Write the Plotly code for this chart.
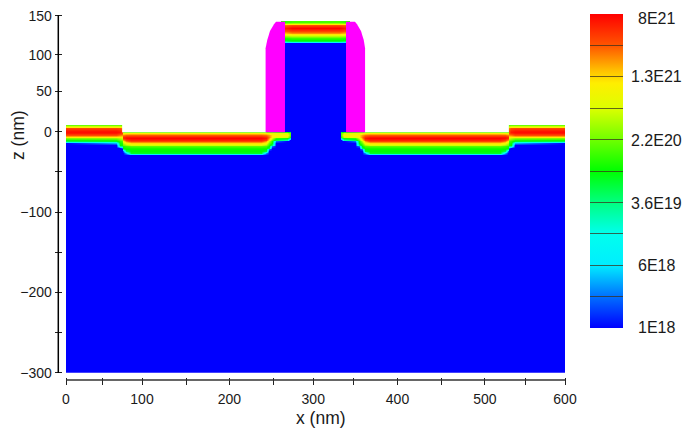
import numpy as np
import plotly.graph_objects as go

W, H = 685, 428
FONT = "Liberation Sans, Arial, sans-serif"

# ---- axis ticks as they appear in the picture (the drawn ticks are unevenly spaced)
x_tick_pos = [0, 43.3, 91.4, 144.3, 196.4, 249.3, 297.3, 346, 398.6, 451, 503.6, 552, 600]
x_tick_txt = ["0", "", "100", "", "200", "", "300", "", "400", "", "500", "", "600"]
z_tick_pos = [144.4, 95.6, 50, 0, -50, -100, -150, -200, -250, -300]
z_tick_txt = ["150", "100", "50", "0", "", "\u2212100", "", "\u2212200", "", "\u2212300"]

# ---- colour bar
cbar_ticks = [18, 18.39, 18.78, 19.17, 19.56, 19.95, 20.34, 20.73, 21.12, 21.51, 21.903]
cbar_labels = ["8E21", "1.3E21", "2.2E20", "3.6E19", "6E18", "1E18"]
cbar_label_px = [19, 76, 141, 203, 265, 327]
colour_stops = [
    [0.0, "#0000FF"], [0.1, "#0070FF"], [0.2, "#00EEFF"], [0.3, "#00FFEE"],
    [0.4, "#00FF80"], [0.5, "#00FF00"], [0.6, "#70FF00"], [0.7, "#DDFF00"],
    [0.78, "#FFEE00"], [0.82, "#FFC000"], [0.9, "#FF5500"], [1.0, "#FF0000"],
]

# ---- silicon doping, log10(cm^-3); left half, top row first
z_rows = [10, 8.3, 6, 4.5, 1, -0.75, -2, -4, -6, -8, -10, -12, -14, -16, -18, -20, -22, -24, -26, -28.5, -300]
x_cols = [0, 60, 65, 67, 68, 72, 78, 235, 240, 244, 248, 252, 266, 269, 271, 300]
column_values = [
    [20.34, 20.34, 21.0, 21.59, 21.82, 21.85, 21.8, 21.55, 21.04, 20.4, 20.0, 19.75, 18, 18, 18, 18, 18, 18, 18, 18, 18],
    [20.34, 20.34, 21.0, 21.59, 21.82, 21.85, 21.8, 21.55, 21.04, 20.45, 20.05, 19.85, 18.6, 18, 18, 18, 18, 18, 18, 18, 18],
    [20.34, 20.34, 21.0, 21.55, 21.75, 21.8, 21.7, 21.4, 21.0, 20.6, 20.3, 20.1, 20.0, 19.95, 19.5, 18, 18, 18, 18, 18, 18],
    [20.3, 20.3, 20.9, 21.4, 21.6, 21.6, 21.6, 21.35, 21.0, 20.7, 20.4, 20.2, 20.05, 19.98, 19.6, 18.3, 18, 18, 18, 18, 18],
    [20.3, 20.3, 20.3, 20.3, 20.3, 20.3, 20.9, 21.4, 21.7, 21.7, 21.3, 21.0, 20.6, 20.3, 20.05, 19.95, 19.6, 18.3, 18, 18, 18],
    [20.34, 20.34, 20.34, 20.34, 20.34, 20.34, 21.0, 21.5, 21.8, 21.85, 21.6, 21.4, 20.9, 20.5, 20.15, 20.0, 19.95, 19.7, 18.6, 18, 18],
    [20.34, 20.34, 20.34, 20.34, 20.34, 20.34, 21.04, 21.51, 21.8, 21.9, 21.75, 21.6, 21.1, 20.7, 20.25, 20.02, 19.97, 19.95, 19.85, 18, 18],
    [20.34, 20.34, 20.34, 20.34, 20.34, 20.34, 21.04, 21.51, 21.8, 21.9, 21.75, 21.6, 21.1, 20.7, 20.25, 20.02, 19.97, 19.95, 19.85, 18, 18],
    [20.34, 20.34, 20.34, 20.34, 20.34, 20.34, 21.0, 21.45, 21.7, 21.8, 21.6, 21.3, 20.9, 20.5, 20.2, 20.0, 19.95, 19.8, 18.5, 18, 18],
    [20.3, 20.3, 20.3, 20.3, 20.3, 20.3, 20.9, 21.3, 21.4, 21.3, 21.0, 20.6, 20.3, 20.05, 19.95, 19.7, 18.4, 18, 18, 18, 18],
    [20.3, 20.3, 20.3, 20.3, 20.3, 20.3, 20.8, 21.05, 21.0, 20.7, 20.3, 20.02, 19.95, 19.6, 18.4, 18, 18, 18, 18, 18, 18],
    [20.2, 20.2, 20.2, 20.2, 20.2, 20.2, 20.8, 21.0, 20.8, 20.1, 19.7, 18.4, 18, 18, 18, 18, 18, 18, 18, 18, 18],
    [20.1, 20.1, 20.1, 20.1, 20.1, 20.1, 20.7, 21.0, 20.7, 20.0, 19.4, 18, 18, 18, 18, 18, 18, 18, 18, 18, 18],
    [19.8, 19.8, 19.8, 19.8, 19.8, 19.8, 20.3, 20.3, 20.1, 19.4, 18, 18, 18, 18, 18, 18, 18, 18, 18, 18, 18],
    [18] * 21,
    [18] * 21,
]

# ---- poly-silicon gate doping, log10, bottom row first
gate_z = [0, 0.5, 111, 112.5, 114.5, 117, 120, 122.5, 125, 129, 133, 134, 135.4, 137]
gate_x = [263, 272, 300, 328, 337]
gate_edge = [18, 18, 18, 19.6, 19.9, 20.05, 20.7, 21.2, 21.5, 21.75, 21.45, 21.0, 20.4, 20.1]
gate_mid = [18, 18, 18, 19.8, 19.95, 20.15, 20.8, 21.35, 21.6, 21.9, 21.55, 21.04, 20.5, 20.2]
gate_values = [gate_edge, gate_mid, gate_mid, gate_mid, gate_edge]

# ---- outlines (nm)
spacer_x_left = [240, 240, 242, 245.3, 250.1, 252.5, 263.3, 263.3, 240]
spacer_x_right = [359.6, 359.6, 358, 354.7, 349.9, 347.5, 336.7, 336.7, 359.6]
spacer_z = [-0.7, 103.9, 114.2, 125.3, 133.7, 137, 137, -0.7, -0.7]
air_x_left = [0, 0, 67.5, 67.5, 241, 241, 0]
air_x_right = [600, 600, 532.5, 532.5, 359, 359, 600]
air_z = [12, 8.3, 8.3, -0.75, -0.75, 12, 12]

# ---- assemble
left = np.array(column_values, dtype=float)
main_x = x_cols + [600 - v for v in x_cols[-2::-1]]
main_table = np.vstack([left, left[-2::-1]])            # columns, left + mirrored right
main_z = main_table.T[::-1]                              # rows, ascending z
main_y = z_rows[::-1]
gate_table = np.array(gate_values, dtype=float).T

fig = go.Figure()
fig.add_trace(go.Heatmap(x=main_x, y=main_y, z=main_z, coloraxis="coloraxis",
                         zsmooth="best", hoverinfo="skip"))
fig.add_trace(go.Heatmap(x=gate_x, y=gate_z, z=gate_table, coloraxis="coloraxis",
                         zsmooth="best", hoverinfo="skip"))
for xs, zs, col in [(air_x_left, air_z, "white"), (air_x_right, air_z, "white"),
                    (spacer_x_left, spacer_z, "#FF00FF"), (spacer_x_right, spacer_z, "#FF00FF")]:
    fig.add_trace(go.Scatter(x=xs, y=zs, mode="lines", fill="toself", fillcolor=col,
                             line=dict(width=0), showlegend=False, hoverinfo="skip"))

px_x = lambda p: p / W
px_y = lambda p: (H - p) / H

annotations = [
    dict(text=t, x=px_x(656), y=px_y(p), xref="paper", yref="paper", showarrow=False,
         xanchor="center", yanchor="middle", font=dict(family=FONT, size=16, color="#1a1a1a"))
    for t, p in zip(cbar_labels, cbar_label_px)
]
annotations.append(dict(text="x (nm)", x=px_x(320.5), y=px_y(418), xref="paper", yref="paper",
                        showarrow=False, xanchor="center", yanchor="middle",
                        font=dict(family=FONT, size=17.5, color="#1a1a1a")))
annotations.append(dict(text="z (nm)", x=px_x(18), y=px_y(135), xref="paper", yref="paper",
                        showarrow=False, xanchor="center", yanchor="middle", textangle=-90,
                        font=dict(family=FONT, size=17.5, color="#1a1a1a")))

shapes = [
    dict(type="line", xref="paper", yref="paper", x0=px_x(66), x1=px_x(565),
         y0=px_y(380), y1=px_y(380), line=dict(color="#333333", width=1.5)),
    dict(type="line", xref="paper", yref="paper", x0=px_x(58.3), x1=px_x(58.3),
         y0=px_y(15), y1=px_y(373), line=dict(color="black", width=1.5)),
]

fig.update_layout(
    width=W, height=H, paper_bgcolor="white", plot_bgcolor="white",
    margin=dict(l=0, r=0, t=0, b=0, autoexpand=False), showlegend=False,
    font=dict(family=FONT, size=14, color="#1a1a1a"),
    annotations=annotations, shapes=shapes,
    xaxis=dict(domain=[px_x(66), px_x(565)], range=[0, 600], anchor="free",
               position=px_y(376.5), showgrid=False, zeroline=False, showline=False,
               tickmode="array", tickvals=x_tick_pos, ticktext=x_tick_txt,
               ticks="outside", ticklen=7, tickwidth=1, tickcolor="#222222",
               ticklabelstandoff=3, tickangle=0),
    yaxis=dict(domain=[px_y(372.7), px_y(15.7)], range=[-300, 144.4], anchor="free",
               position=px_x(61.7), showgrid=False, zeroline=False, showline=False,
               tickmode="array", tickvals=z_tick_pos, ticktext=z_tick_txt,
               ticks="outside", ticklen=7, tickwidth=1, tickcolor="#222222"),
    coloraxis=dict(
        cmin=18, cmax=21.903, colorscale=colour_stops,
        colorbar=dict(x=px_x(590), xanchor="left", y=px_y(14), yanchor="top",
                      lenmode="pixels", len=314, thicknessmode="pixels", thickness=33,
                      xpad=0, ypad=0, outlinewidth=0, borderwidth=0,
                      tickmode="array", tickvals=cbar_ticks, showticklabels=False,
                      ticks="inside", ticklen=33, tickwidth=1,
                      tickcolor="rgba(60,50,30,0.75)"),
    ),
)
fig.write_html("out.html", config={"displayModeBar": False},
               post_script="document.body.style.margin='0';document.body.style.overflow='hidden';")
